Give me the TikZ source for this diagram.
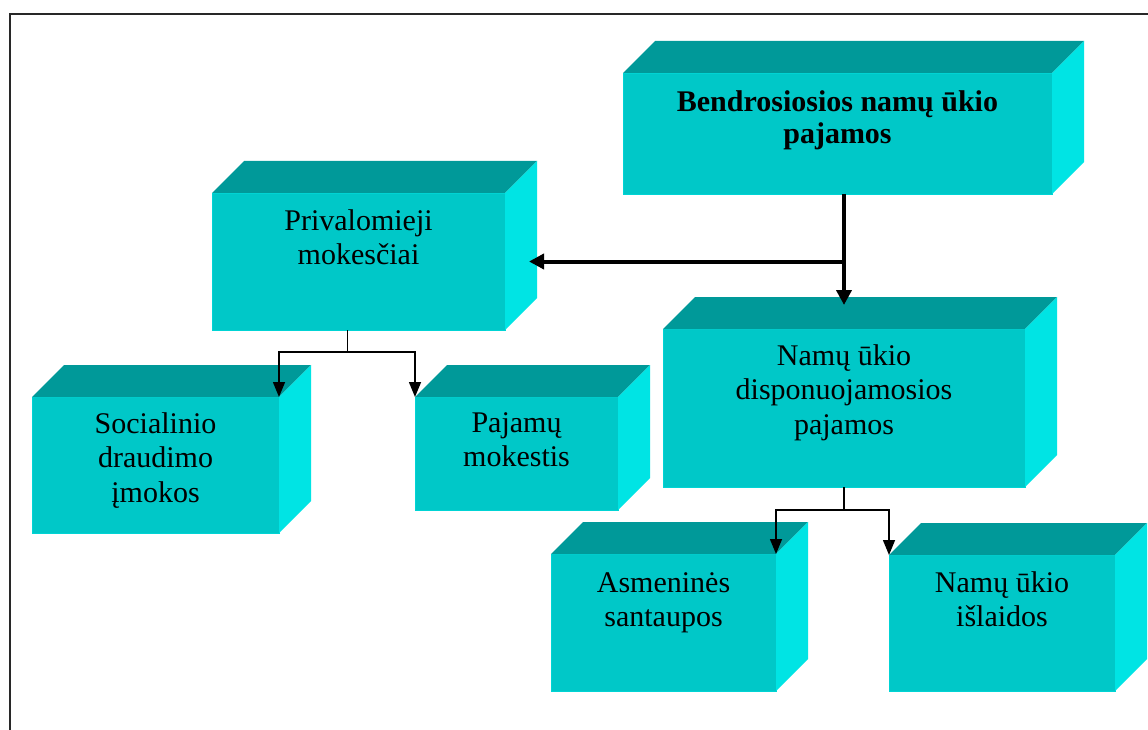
\documentclass[tikz,border=0pt]{standalone}
\usepackage{fontspec}
\setmainfont{Liberation Serif}
\usetikzlibrary{arrows.meta,calc}
\definecolor{frontc}{RGB}{0,200,200}
\definecolor{topc}{RGB}{0,153,153}
\definecolor{sidec}{RGB}{0,228,228}
\definecolor{edgec}{RGB}{0,212,212}
\newcommand\cubefaces[1]{%
  \fill[topc] (#1.north west) -- ++(32,-32) -- ([shift={(32,-32)}]#1.north east) -- (#1.north east) -- cycle;
  \fill[sidec] (#1.north east) -- ++(32,-32) -- ([shift={(32,-32)}]#1.south east) -- (#1.south east) -- cycle;
}
\newcommand\lbl[1]{\begin{tabular}[t]{@{}c@{}}#1\end{tabular}}
\begin{document}
\begin{tikzpicture}[x=1pt,y=-1pt,
  front/.style={fill=frontc, draw=edgec, line width=0.8pt, inner sep=0pt, outer sep=0pt, anchor=north west},
  txt/.style={anchor=base, inner sep=0pt, font=\fontsize{30}{34.5}\selectfont},
  thick arrow/.style={line width=4pt, -{Triangle[width=15pt,length=15pt]}},
  thickline/.style={line width=4pt},
  thin arrow/.style={line width=1.5pt, -{Triangle[width=12pt,length=15pt]}},
  thinline/.style={line width=1.5pt}]
\useasboundingbox (0,0) rectangle (1148,730);
\fill[white] (0,0) rectangle (1148,730);
\draw[line width=2pt, color={rgb,255:red,40;green,40;blue,40}] (10,14) rectangle (1165,745);

% boxes (front faces)
\node[front, minimum width=429pt, minimum height=121pt] (b1) at (623,73) {};
\node[front, minimum width=293pt, minimum height=137pt] (b2) at (212,193) {};
\node[front, minimum width=247pt, minimum height=136pt] (b3) at (32,397) {};
\node[front, minimum width=203pt, minimum height=113pt] (b4) at (415,397) {};
\node[front, minimum width=362pt, minimum height=158pt] (b5) at (663,329) {};
\node[front, minimum width=225pt, minimum height=137pt] (b6) at (551,554) {};
\node[front, minimum width=226pt, minimum height=136pt] (b7) at (889,555) {};
\cubefaces{b1}
\cubefaces{b2}
\cubefaces{b3}
\cubefaces{b4}
\cubefaces{b5}
\cubefaces{b6}
\cubefaces{b7}

% texts
\node[txt, font=\bfseries\fontsize{30}{32}\selectfont] (t1) at (837.5,112) {\lbl{Bendrosiosios namų ūkio\\pajamos}};
\node[txt] (t2) at (358.5,230) {\lbl{Privalomieji\\mokesčiai}};
\node[txt] (t3) at (155.5,433) {\lbl{Socialinio\\draudimo\\įmokos}};
\node[txt] (t4) at (516.5,432) {\lbl{Pajamų\\mokestis}};
\node[txt] (t5) at (844,365) {\lbl{Namų ūkio\\disponuojamosios\\pajamos}};
\node[txt] (t6) at (663.5,592) {\lbl{Asmeninės\\santaupos}};
\node[txt] (t7) at (1002,592) {\lbl{Namų ūkio\\išlaidos}};

% connectors
\coordinate (p5) at ($(b5.north)+(0,-24)$);
\coordinate (p2) at ($(b2.east)+(24,0)$);
\draw[thick arrow] (b1.south -| p5) -- (p5);
\draw[thick arrow] (p5 |- p2) -- (p2);

\coordinate (s2) at ($(b2.south)+(-11,0)$);
\coordinate (h2) at ($(s2)+(0,22)$);
\draw[thinline] (s2) -- (h2);
\draw[thin arrow] (h2) -| (b3.north east);
\draw[thin arrow] (h2) -| (b4.north west);

\coordinate (h5) at ($(b5.south)+(0,23)$);
\draw[thinline] (b5.south) -- (h5);
\draw[thin arrow] (h5) -| (b6.north east);
\draw[thin arrow] (h5) -| (b7.north west);
\end{tikzpicture}
\end{document}
